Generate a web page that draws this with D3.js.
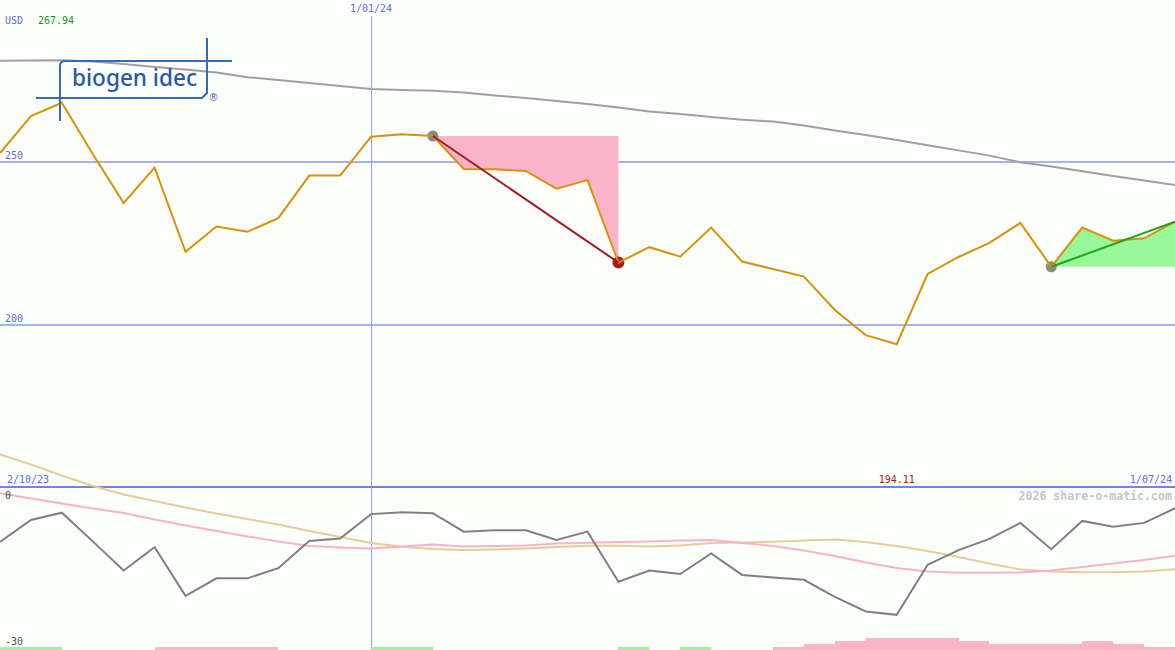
<!DOCTYPE html>
<html><head><meta charset="utf-8">
<script src="https://cdn.jsdelivr.net/npm/d3@7/dist/d3.min.js"></script>
<style>
html,body{margin:0;padding:0;background:#fcfefc;}
svg{display:block;}
text{font-family:"DejaVu Sans Mono",monospace;font-size:10px;}
</style></head><body>
<svg id="c" width="1175" height="650"></svg>
<script>
// ---- data (weekly points) ----
const price = [252.6, 263.9, 267.94, 252.3, 237.3, 248.1, 222.4, 230.1, 228.5, 232.7, 245.7, 245.7, 257.6, 258.3, 257.8, 247.7, 247.6, 247.1, 241.7, 244.3, 219.1, 223.8, 220.9, 229.8, 219.4, 217.1, 214.8, 204.6, 196.9, 194.11, 215.6, 220.8, 225.1, 231.2, 217.8, 229.8, 225.8, 226.5, 231.6];
const movingAvg = [280.8, 280.9, 281.0, 280.6, 279.8, 278.9, 278.1, 277.2, 275.8, 274.9, 274.0, 273.1, 272.2, 271.9, 271.6, 271.1, 270.2, 269.4, 268.5, 267.6, 266.5, 265.3, 264.5, 263.6, 262.8, 262.2, 261.0, 259.5, 258.1, 256.6, 255.0, 253.4, 251.8, 249.8, 248.5, 247.0, 245.6, 244.2, 242.8];
const oscGray = [-8.6, -4.1, -2.6, -8.5, -14.5, -9.7, -19.7, -16.1, -16.1, -14.0, -8.4, -7.9, -2.9, -2.5, -2.7, -6.5, -6.2, -6.2, -8.2, -6.5, -16.8, -14.5, -15.2, -11.0, -15.4, -15.9, -16.4, -19.9, -22.9, -23.6, -13.3, -10.3, -8.0, -4.7, -10.1, -4.3, -5.5, -4.7, -1.7];
const oscPink = [1.38, 0.31, -0.72, -1.75, -2.67, -4.0, -5.24, -6.37, -7.49, -8.52, -9.45, -9.75, -9.96, -9.55, -9.14, -9.55, -9.45, -9.34, -8.93, -8.77, -8.62, -8.52, -8.32, -8.21, -8.83, -9.45, -10.37, -11.5, -12.83, -13.96, -14.68, -14.93, -14.93, -14.89, -14.48, -13.76, -13.04, -12.32, -11.44];
const oscTan = [9.38, 7.29, 5.03, 2.87, 1.13, -0.21, -1.54, -2.77, -3.9, -5.03, -6.37, -7.6, -8.83, -9.59, -10.06, -10.27, -10.16, -9.96, -9.65, -9.38, -9.4, -9.55, -9.34, -8.83, -8.73, -8.56, -8.32, -8.11, -8.62, -9.45, -10.47, -11.7, -13.04, -14.27, -14.68, -14.85, -14.85, -14.68, -14.23];
// signal bars per weekly segment (+ green, - pink)
const signal = [1,1,0,0,0,-1,-1,-1,-1,0,0,0,1,1,0,0,0,0,0,0,1,0,1,0,0,-1,-2,-3,-4,-4,-4,-3,-2,-2,-2,-3,-2,-1];
const priceTicks = [200, 250];
const oscTicks = [0, -30];
const yearMarkIndex = [12];
const yearMarkLabel = ["1/01/24"];
const startLabel = "2/10/23", endLabel = "1/07/24";
const currency = "USD", maxLabel = "267.94", minLabel = "194.11";
const downMove = [14, 20];   // falling trend (start, end index)
const upMove = [34, 38];     // rising trend
const watermark = "2026 share-o-matic.com";

// ---- scales ----
const W = 1175, H = 650;
const svg = d3.select("#c");
const x = d3.scaleLinear().domain([0, price.length - 1]).range([0, W]);
const yP = d3.scaleLinear().domain([200, 250]).range([325, 161.5]);
const yL = d3.scaleLinear().domain([-30, 0]).range([646, 500]);

svg.append("rect").attr("width", W).attr("height", H).attr("fill", "#fcfefc");

// grid lines
svg.selectAll(".pg").data(priceTicks).join("line")
  .attr("x1", 0).attr("x2", W).attr("y1", d => yP(d)).attr("y2", d => yP(d))
  .attr("stroke", "#a4b2f0").attr("stroke-width", 2).attr("shape-rendering", "crispEdges");

// fills
const idx = d3.range(price.length);
const dn = idx.filter(i => i >= downMove[0] && i <= downMove[1]);
const up = idx.filter(i => i >= upMove[0] && i <= upMove[1]);
svg.append("path").datum(dn)
  .attr("d", d3.area().x(i => x(i)).y0(yP(price[downMove[0]])).y1(i => yP(price[i])))
  .attr("fill", "#f9b4ca");
svg.append("path").datum(up)
  .attr("d", d3.area().x(i => x(i)).y0(yP(price[upMove[0]])).y1(i => yP(price[i])))
  .attr("fill", "#98f898");

// vertical year marker
svg.selectAll(".vm").data(yearMarkIndex).join("rect")
  .attr("x", d => Math.round(x(d))).attr("width", 1)
  .attr("y", 16).attr("height", H - 16)
  .attr("fill", "#8c9cff").attr("shape-rendering", "crispEdges");
svg.selectAll(".vl").data(yearMarkIndex).join("text")
  .attr("x", d => x(d)).attr("y", 12).attr("text-anchor", "middle")
  .attr("fill", "#5a6cf0").text((d, i) => yearMarkLabel[i]);

// moving average
svg.append("path").datum(movingAvg)
  .attr("d", d3.line().x((d, i) => x(i)).y(d => yP(d)))
  .attr("fill", "none").attr("stroke", "#a0a0a0").attr("stroke-width", 2);

// circles
svg.append("circle").attr("cx", x(downMove[0])).attr("cy", yP(price[downMove[0]])).attr("r", 5.5).attr("fill", "#888888");
svg.append("circle").attr("cx", x(downMove[1])).attr("cy", yP(price[downMove[1]])).attr("r", 6).attr("fill", "#a81c1c");
svg.append("circle").attr("cx", x(upMove[0])).attr("cy", yP(price[upMove[0]])).attr("r", 5.5).attr("fill", "#888888");

// price line
svg.append("path").datum(price)
  .attr("d", d3.line().x((d, i) => x(i)).y(d => yP(d)))
  .attr("fill", "none").attr("stroke", "#d8920a").attr("stroke-width", 2).attr("stroke-linejoin", "miter");

// trend lines
svg.append("line").attr("x1", x(downMove[0])).attr("y1", yP(price[downMove[0]]))
  .attr("x2", x(downMove[1])).attr("y2", yP(price[downMove[1]]))
  .attr("stroke", "#a01c1c").attr("stroke-width", 2);
svg.append("line").attr("x1", x(upMove[0])).attr("y1", yP(price[upMove[0]]))
  .attr("x2", x(upMove[1])).attr("y2", yP(price[upMove[1]]))
  .attr("stroke", "#22a022").attr("stroke-width", 2);

// price tick labels
svg.selectAll(".pl").data(priceTicks).join("text")
  .attr("x", 5).attr("y", d => yP(d) - 3).attr("fill", "#5a6cf0").text(d => d);

svg.append("text").attr("x", 5).attr("y", 24).attr("fill", "#5a6cf0").text(currency);
svg.append("text").attr("x", 38).attr("y", 24).attr("fill", "#1a961a").text(maxLabel);

// separator
svg.append("line").attr("x1", 0).attr("x2", W).attr("y1", 487).attr("y2", 487)
  .attr("stroke", "#7282ea").attr("stroke-width", 2).attr("shape-rendering", "crispEdges");
svg.append("text").attr("x", 7).attr("y", 483).attr("fill", "#5a6cf0").text(startLabel);
svg.append("text").attr("x", 1172).attr("y", 483).attr("text-anchor", "end").attr("fill", "#5a6cf0").text(endLabel);
svg.append("text").attr("x", x(price.indexOf(d3.min(price)))).attr("y", 483).attr("text-anchor", "middle").attr("fill", "#a01c1c").text(minLabel);
svg.append("text").attr("x", 1172).attr("y", 500).attr("text-anchor", "end")
  .attr("fill", "#c6c6c6").style("font-size", "11.6px").style("font-weight", "bold").text(watermark);

// lower panel lines
const lineL = d3.line().x((d, i) => x(i)).y(d => yL(d));
svg.append("path").datum(oscTan).attr("d", lineL).attr("fill", "none").attr("stroke", "#e6cc9a").attr("stroke-width", 2);
svg.append("path").datum(oscPink).attr("d", lineL).attr("fill", "none").attr("stroke", "#f8b2c8").attr("stroke-width", 2);
svg.append("path").datum(oscGray).attr("d", lineL).attr("fill", "none").attr("stroke", "#808080").attr("stroke-width", 2);

svg.selectAll(".ol").data(oscTicks).join("text")
  .attr("x", 5).attr("y", d => yL(d) - 1).attr("fill", "#505050").text(d => d === 0 ? "0" : "-" + Math.abs(d));

// signal bars
svg.selectAll(".sb").data(signal.map((v, i) => ({v, i})).filter(d => d.v !== 0)).join("rect")
  .attr("x", d => x(d.i)).attr("width", d => x(d.i + 1) - x(d.i))
  .attr("y", d => H - Math.abs(d.v) * 3).attr("height", d => Math.abs(d.v) * 3)
  .attr("fill", d => d.v > 0 ? "#98f898" : "#f9b4ca").attr("shape-rendering", "crispEdges");

// logo
const logo = svg.append("g");
logo.append("path").attr("d", "M60,121 V66 Q60,61 65,61 H232").attr("fill", "none").attr("stroke", "#3a68bc").attr("stroke-width", 2);
logo.append("path").attr("d", "M207,38 V93 L202,98 H36").attr("fill", "none").attr("stroke", "#3a68bc").attr("stroke-width", 2);
logo.append("text").attr("x", 72).attr("y", 86).attr("textLength", 125).attr("lengthAdjust", "spacingAndGlyphs")
  .style("font-family", "'Noto Sans', 'Open Sans', sans-serif").style("font-size", "24px").style("font-weight", "500")
  .attr("fill", "#2a58a8").text("biogen idec");
logo.append("text").attr("x", 213.5).attr("y", 100.5).attr("text-anchor", "middle")
  .style("font-family", "'DejaVu Sans', sans-serif").style("font-size", "10px")
  .attr("fill", "#3a68bc").text("®");
</script>
</body></html>
